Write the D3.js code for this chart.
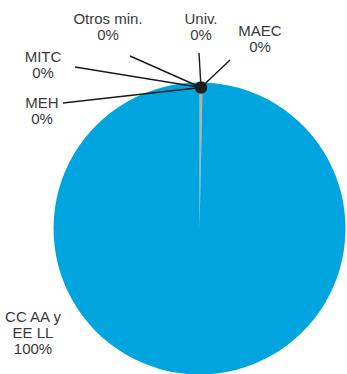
<!DOCTYPE html>
<html>
<head>
<meta charset="utf-8">
<script src="https://cdn.jsdelivr.net/npm/d3@7"></script>
<style>
  html, body { margin: 0; padding: 0; background: #fff; }
  svg { display: block; }
  text { font-family: "Liberation Sans", Arial, Helvetica, sans-serif; font-size: 15px; fill: #3a3a3a; }
</style>
</head>
<body>
<svg id="chart" width="347" height="374"></svg>
<script>
// Shares of spending by administration (%)
const categories = ["MEH", "MITC", "Otros min.", "Univ.", "MAEC", "CC AA y EE LL"];
const labelLines = [["MEH"], ["MITC"], ["Otros min."], ["Univ."], ["MAEC"], ["CC AA y", "EE LL"]];
const values = [0.09, 0.08, 0.07, 0.06, 0.04, 99.66];
const colors = ["#9cc23f", "#d98a35", "#9a9a9a", "#7d72a8", "#b5b5b5", "#00a5e0"];

// Label anchor (text centre x, first baseline y) and leader-line end for each category
const labelPos = [
  { x: 42,  y: 108, lx: 63,  ly: 103 },
  { x: 43,  y: 62,  lx: 75,  ly: 67 },
  { x: 108, y: 24,  lx: 130, ly: 56 },
  { x: 201, y: 24,  lx: 199, ly: 53 },
  { x: 260, y: 36,  lx: 230, ly: 60 },
  { x: 33,  y: 322, lx: null, ly: null }
];

const svg = d3.select("#chart");
const cx = 199.5, cy = 228.5, radius = 146;

const total = d3.sum(values);
const pie = d3.pie().sort(null).value(d => d)(values);
const arc = d3.arc().innerRadius(0).outerRadius(radius);

const g = svg.append("g").attr("transform", `translate(${cx},${cy})`);

g.selectAll("path")
  .data(pie)
  .join("path")
  .attr("d", arc)
  .attr("fill", (d, i) => colors[i]);

// Convergence point of the small slices' leader lines
const small = pie.slice(0, 5);
const midAngle = (small[0].startAngle + small[small.length - 1].endAngle) / 2;
const dotR = radius - 5;
const dot = [cx + dotR * Math.sin(midAngle), cy - dotR * Math.cos(midAngle)];

labelPos.forEach((p, i) => {
  if (p.lx !== null) {
    svg.append("line")
      .attr("x1", p.lx).attr("y1", p.ly)
      .attr("x2", dot[0]).attr("y2", dot[1])
      .attr("stroke", "#1a1a1a")
      .attr("stroke-width", 1.4);
  }
});

svg.append("circle")
  .attr("cx", dot[0]).attr("cy", dot[1])
  .attr("r", 6.2)
  .attr("fill", "#1e1e1e");

const fmt = v => Math.round(v / total * 100) + "%";

labelPos.forEach((p, i) => {
  const lines = labelLines[i].concat([fmt(values[i])]);
  const t = svg.append("text").attr("text-anchor", "middle");
  lines.forEach((s, k) => {
    t.append("tspan").attr("x", p.x).attr("y", p.y + k * 16).text(s);
  });
});
</script>
</body>
</html>
